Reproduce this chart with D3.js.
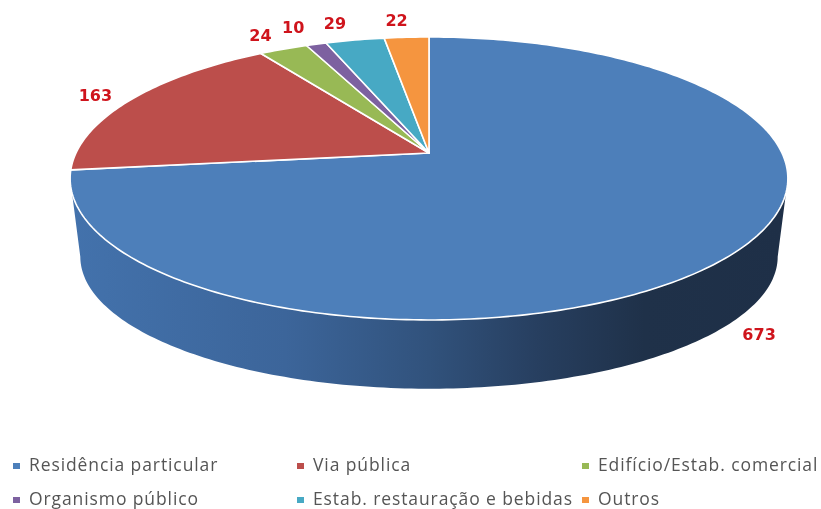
<!DOCTYPE html>
<html lang="pt">
<head>
    <meta charset="UTF-8">
    <title>Pie chart</title>
    <script src="https://d3js.org/d3.v7.min.js"></script>
    <style>
        body { margin: 0; padding: 0; background: #fff; }
        svg { display: block; font-family: 'Open Sans', sans-serif; filter: blur(0.4px); }
        .value { font-family: 'DejaVu Sans', sans-serif; font-size: 16px; font-weight: bold; fill: #cf141c; text-anchor: middle; }
        .legend { font-size: 17.5px; letter-spacing: 0.9px; fill: #555; }
    </style>
</head>
<body>
    <svg width="821" height="509"></svg>
    <script>
        const categories = ["Residência particular", "Via pública", "Edifício/Estab. comercial",
                            "Organismo público", "Estab. restauração e bebidas", "Outros"];
        const counts = [673, 163, 24, 10, 29, 22];
        const colors = ["#4d7fba", "#bc4e4b", "#98b955", "#7d61a0", "#47a9c4", "#f5953f"];

        // nudges from the rim to the label baseline
        const labelNudge = [[30, 84], [-36, 1.5], [-23, -8], [-23, -11], [-20, -11], [-10, -11]];
        const legendX = [13, 297, 582, 13, 297, 582];
        const legendY = [466, 466, 466, 500, 500, 500];

        const svg = d3.select("svg");
        const defs = svg.append("defs");

        // perspective disc: k is the foreshortening toward the viewer
        const k = 0.18;
        const topDisc = { cx: 429, cy: 153, rx: 353, ry: 136.9 };
        const baseDisc = { cx: 429, cy: 233, rx: 343, ry: 127.7 };

        function project(disc, angle, r) {
            const u = Math.sin(angle) * r, v = -Math.cos(angle) * r;
            const w = 1 - k * v;
            return [disc.cx + disc.rx * u / w, disc.cy + disc.ry * v / w];
        }

        function rim(disc, a0, a1) {
            const n = Math.max(2, Math.ceil(Math.abs(a1 - a0) * 60));
            return d3.range(n + 1).map(i => project(disc, a0 + (a1 - a0) * i / n, 1));
        }

        const line = d3.line();
        const slices = d3.pie().sort(null)(counts);
        const rad = d => d * Math.PI / 180;

        // side wall, only the front of the first slice shows
        const grad = defs.append("linearGradient").attr("id", "wall")
            .attr("gradientUnits", "userSpaceOnUse")
            .attr("x1", 70).attr("x2", 788).attr("y1", 0).attr("y2", 0);
        [[0, "#4372ac"], [0.3, "#3c659a"], [0.5, "#31527c"], [0.65, "#273f60"], [0.8, "#1f3149"], [1, "#1e2f47"]]
            .forEach(s => grad.append("stop").attr("offset", s[0]).attr("stop-color", s[1]));

        const a0 = rad(100.4), a1 = rad(259.6);
        svg.append("path")
            .attr("d", line(rim(topDisc, a0, a1).concat(rim(baseDisc, a1, a0))) + "Z")
            .attr("fill", "url(#wall)");

        // top face
        svg.selectAll("path.slice")
            .data(slices)
            .enter()
            .append("path")
            .attr("class", "slice")
            .attr("d", d => line([[topDisc.cx, topDisc.cy]].concat(rim(topDisc, d.startAngle, d.endAngle))) + "Z")
            .attr("fill", (d, i) => colors[i])
            .attr("stroke", "#fff")
            .attr("stroke-width", 1.6)
            .attr("stroke-linejoin", "round");

        // value labels
        svg.selectAll("text.value")
            .data(slices)
            .enter()
            .append("text")
            .attr("class", "value")
            .attr("x", (d, i) => project(topDisc, (d.startAngle + d.endAngle) / 2, 1)[0] + labelNudge[i][0])
            .attr("y", (d, i) => project(topDisc, (d.startAngle + d.endAngle) / 2, 1)[1] + labelNudge[i][1])
            .text(d => d.value);

        // legend
        const items = svg.selectAll("g.item")
            .data(categories)
            .enter()
            .append("g")
            .attr("class", "item")
            .attr("transform", (d, i) => `translate(${legendX[i]},${legendY[i]})`);
        items.append("rect")
            .attr("x", 0).attr("y", -3)
            .attr("width", 7).attr("height", 6)
            .attr("fill", (d, i) => colors[i]);
        items.append("text")
            .attr("class", "legend")
            .attr("x", 16).attr("y", 5)
            .text(d => d);
    </script>
</body>
</html>
